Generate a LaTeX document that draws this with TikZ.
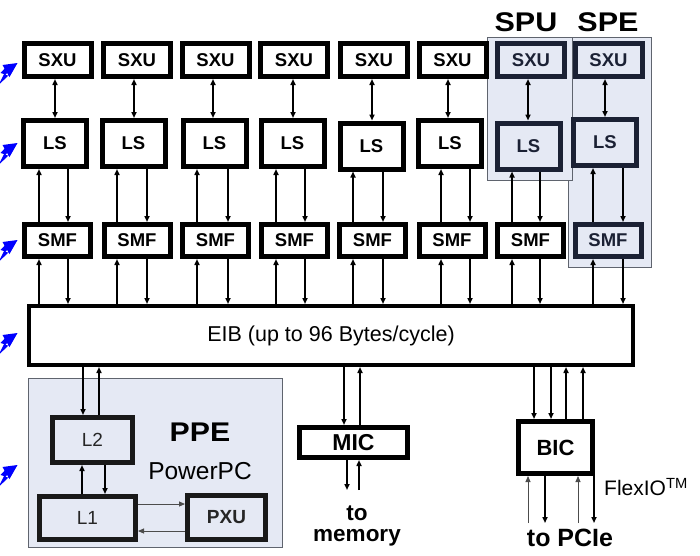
\documentclass[tikz,border=0pt]{standalone}
\usepackage{fontspec}
\setmainfont{Liberation Sans}
\usetikzlibrary{arrows.meta}
\definecolor{hl}{RGB}{229,233,244}
\definecolor{navy}{RGB}{27,33,52}
\definecolor{frame}{RGB}{95,100,110}
\tikzset{
  blk/.style={draw=black, line width=5pt, fill=white, inner sep=0pt,
    font=\bfseries\fontsize{18.5}{20}\selectfont},
  nav/.style={blk, draw=navy, fill=hl, text=navy},
  arr/.style={line width=1.6pt, -{Triangle[length=6pt,width=5pt]}},
  darr/.style={line width=1.6pt, {Triangle[length=6pt,width=5pt]}-{Triangle[length=6pt,width=5pt]}},
  tarr/.style={line width=0.9pt, draw=black!70, -{Triangle[length=6pt,width=5pt]}},
  region/.style={draw=frame, line width=1pt, fill=hl},
  lbl/.style={font=\bfseries\fontsize{24}{26}\selectfont, inner sep=0pt},
}
\begin{document}
\begin{tikzpicture}[x=1pt,y=-1pt]
\useasboundingbox (0,0) rectangle (700,555);
% highlight regions
\draw[region] (568,37) rectangle (651,267);
\draw[region] (487,37) rectangle (572,180);
\draw[region] (28,378) rectangle (282,547);
\node[lbl, font=\bfseries\fontsize{27}{29}\selectfont] (spu) at (526,22) {\scalebox{1.13}[1]{SPU}};
\node[lbl, font=\bfseries\fontsize{27}{29}\selectfont] (spe) at (608,22) {\scalebox{1.13}[1]{SPE}};
% SXU row
\foreach \i/\x/\s in {1/57.5/blk,2/137/blk,3/215.5/blk,4/294/blk,5/374/blk,6/452.5/blk,7/531/nav,8/608.5/nav}
  \node[\s, minimum width=67, minimum height=33] (sxu\i) at (\x,60) {SXU};
% LS row
\foreach \i/\x/\y/\s in {1/55/143.5/blk,2/133.5/143.5/blk,3/214.5/143.5/blk,4/292.5/143.5/blk,5/371.5/146/blk,6/450/143.5/blk,7/528.5/146/nav,8/605/142.5/nav}
  \node[\s, minimum width=63, minimum height=46] (ls\i) at (\x,\y) {LS};
% SMF row
\foreach \i/\x/\s in {1/57.5/blk,2/137/blk,3/215.5/blk,4/294.5/blk,5/372.5/blk,6/452/blk,7/530.5/blk,8/608/nav}
  \node[\s, minimum width=66, minimum height=32] (smf\i) at (\x,240.5) {SMF};
% EIB
\node[blk, line width=4pt, minimum width=604, minimum height=59,
  font=\fontsize{21.5}{23}\selectfont] (eib) at (331,335.5) {EIB (up to 96 Bytes/cycle)};
% SXU <-> LS
\foreach \i/\c in {1/55,2/134,3/213,4/293,5/372,6/448,7/528,8/605}
  \draw[darr] (sxu\i.south -| \c,0) -- (ls\i.north -| \c,0);
% LS <-> SMF <-> EIB
\foreach \i/\a/\b in {1/39/68,2/117/147,3/197/228,4/276/305,5/353/383,6/441/470,7/512/540,8/593/623}{
  \draw[arr] (smf\i.north -| \a,0) -- (ls\i.south -| \a,0);
  \draw[arr] (ls\i.south -| \b,0) -- (smf\i.north -| \b,0);
  \draw[arr] (eib.north -| \a,0) -- (smf\i.south -| \a,0);
  \draw[arr] (smf\i.south -| \b,0) -- (eib.north -| \b,0);
}
% PPE
\node[nav, draw=black!90, text=black!85, font=\fontsize{19}{21}\selectfont, minimum width=80, minimum height=45] (l2) at (92.5,440) {L2};
\node[nav, draw=black!90, text=black!85, font=\fontsize{19}{21}\selectfont, minimum width=96, minimum height=43] (l1) at (87.5,518) {L1};
\node[nav, draw=black!90, text=black!85, font=\bfseries\fontsize{19}{21}\selectfont, minimum width=78, minimum height=44] (pxu) at (226.5,517.5) {PXU};
\node[lbl, font=\bfseries\fontsize{27}{29}\selectfont] (ppe) at (200,432) {\scalebox{1.12}[1]{PPE}};
\node[inner sep=0pt, font=\fontsize{24.5}{26}\selectfont] (pwr) at (200,471) {PowerPC};
\draw[arr] (eib.south -| 83,0) -- (l2.north -| 83,0);
\draw[arr] (l2.north -| 99,0) -- (eib.south -| 99,0);
\draw[arr] (l1.north -| 82,0) -- (l2.south -| 82,0);
\draw[arr] (l2.south -| 105,0) -- (l1.north -| 105,0);
\draw[tarr] (l1.east |- 0,504) -- (pxu.west |- 0,504);
\draw[tarr] (pxu.west |- 0,531) -- (l1.east |- 0,531);
% MIC
\node[blk, font=\bfseries\fontsize{23}{25}\selectfont, minimum width=108, minimum height=30] (mic) at (353.5,442.5) {MIC};
\draw[arr] (eib.south -| 344,0) -- (mic.north -| 344,0);
\draw[arr] (mic.north -| 360,0) -- (eib.south -| 360,0);
\coordinate (memd) at (347,490);
\coordinate (memu) at (359,490);
\draw[arr] (mic.south -| memd) -- (memd);
\draw[arr] (memu) -- (mic.south -| memu);
\node[lbl, font=\bfseries\fontsize{22.5}{24}\selectfont] (to) at (357,513) {to};
\node[lbl, font=\bfseries\fontsize{22.5}{24}\selectfont] (memory) at (357,538) {memory};
% BIC
\node[blk, font=\bfseries\fontsize{22}{24}\selectfont, minimum width=74, minimum height=52] (bic) at (555.5,447.5) {BIC};
\draw[arr] (eib.south -| 534,0) -- (bic.north -| 534,0);
\draw[arr] (eib.south -| 551,0) -- (bic.north -| 551,0);
\draw[arr] (bic.north -| 566,0) -- (eib.south -| 566,0);
\draw[arr] (bic.north -| 583,0) -- (eib.south -| 583,0);
\coordinate (p1) at (528,523);
\coordinate (p2) at (545,523);
\coordinate (p3) at (578,523);
\coordinate (p4) at (594,523);
\draw[tarr] (p1) -- (bic.south -| p1);
\draw[arr] (bic.south -| p2) -- (p2);
\draw[tarr] (p3) -- (bic.south -| p3);
\draw[arr] (bic.south -| p4) -- (p4);
\node[inner sep=0pt, anchor=west, font=\fontsize{21}{23}\selectfont] (flex) at (604,487) {FlexIO\textsuperscript{TM}};
\node[lbl, font=\bfseries\fontsize{25}{27}\selectfont] (pcie) at (570,538) {to PCIe};
% blue lightning arrows
\foreach \y in {63,143,240,333,465}
  \fill[blue, shift={(17.5,\y)}] (0,0) -- (-15,2) -- (-12.9,5.6) -- (-17,10) -- (-13.5,11) -- (-19,22) -- (-9,12.5) -- (-12,12) -- (-10.4,9.8) -- (-8,14) -- cycle;
\end{tikzpicture}
\end{document}
